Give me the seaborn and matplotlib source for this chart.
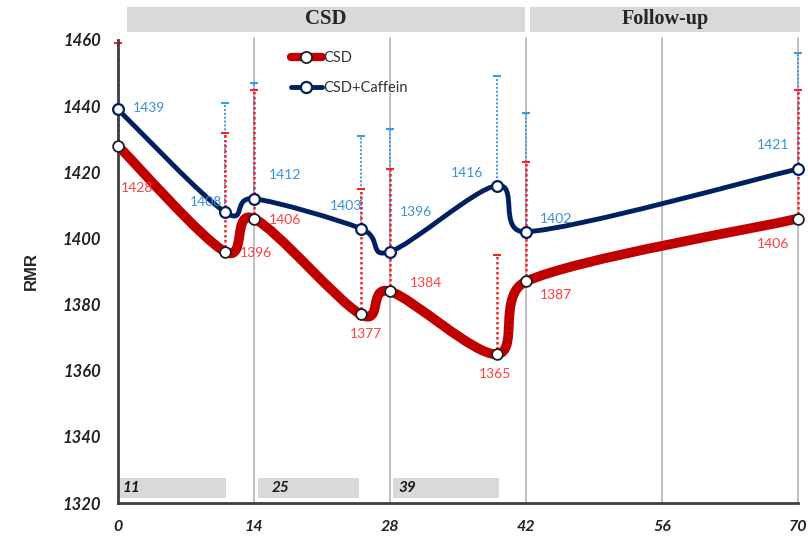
import numpy as np
import matplotlib
matplotlib.use("Agg")
import matplotlib.pyplot as plt
from matplotlib.path import Path
from matplotlib.patches import PathPatch, Rectangle
from matplotlib.lines import Line2D
import seaborn as sns
import pandas as pd

days = [0, 11, 14, 25, 28, 39, 42, 70]
csd = [1428, 1396, 1406, 1377, 1384, 1365, 1387, 1406]
caff = [1439, 1408, 1412, 1403, 1396, 1416, 1402, 1421]
csd_err = [31, 36, 39, 38, 37, 30, 36, 39]
caff_err = [20, 33, 35, 28, 37, 33, 36, 35]
xticks = [0, 14, 28, 42, 56, 70]
yticks = [1320, 1340, 1360, 1380, 1400, 1420, 1440, 1460]
phase_labels = ["CSD", "Follow-up"]
band_labels = ["11", "25", "39"]
band_spans = [(0, 11), (14.3, 24.7), (28.2, 39.1)]

# label offsets in pixels (dx right, dy down)
csd_off = [(19, 42), (31, 1), (31, 1), (5, 20), (36, -8), (-2, 20), (30, 14), (-25, 25)]
caff_off = [(31, -1), (-19, -10), (31, -24), (-15, -23), (26, -40), (-30, -13), (30, -13), (-25, -24)]

RED = "#C00000"
NAVY = "#002060"
RED_T = "#FF4040"
BLUE_T = "#3D8FD6"
RED_E = "#FF2020"
BLUE_E = "#3A9AE8"

sns.set_style("white")
plt.rcParams['font.family'] = ['Lato', 'DejaVu Sans']

fig = plt.figure(figsize=(8.08, 5.40), dpi=100)
ax = fig.add_axes([118/808, 1-503/540, 680/808, 463/540])
ax.set_xlim(0, 70)
ax.set_ylim(1320, 1460)


def smooth_path(xs, ys):
    pts = np.column_stack([xs, ys]).astype(float)
    n = len(pts)
    verts = [pts[0]]
    codes = [Path.MOVETO]
    for i in range(n - 1):
        p0 = pts[i - 1] if i > 0 else pts[i]
        p1 = pts[i]
        p2 = pts[i + 1]
        p3 = pts[i + 2] if i + 2 < n else pts[i + 1]
        seg = p2[0] - p1[0]
        d1 = (p2 - p0) / 6.0
        d2 = (p3 - p1) / 6.0
        if abs(d1[0]) > seg:
            d1 = d1 * seg / abs(d1[0])
        if abs(d2[0]) > seg:
            d2 = d2 * seg / abs(d2[0])
        verts += [p1 + d1, p2 - d2, p2]
        codes += [Path.CURVE4] * 3
    return Path(verts, codes)

# grid lines
for xv in xticks[1:]:
    ax.axvline(xv, color="#C0C0C0", lw=1.4, zorder=0.5, ymax=1.005, clip_on=False)

# bottom bands
band_text_x = [0.5, 1.5, 0.7]
for (a, b), lab, tx in zip(band_spans, band_labels, band_text_x):
    ax.add_patch(Rectangle((a + 0.1, 1321.5), b - a, 6.1, color="#D9D9D9", zorder=0.6, lw=0))
    ax.text(a + tx, 1324.5, lab, fontsize=11, fontweight="bold", fontstyle="italic",
            va="center", ha="left", color="#1a1a1a", zorder=0.7)

# error bars
for vals, err, col, lw in [(caff, caff_err, BLUE_E, 1.4), (csd, csd_err, RED_E, 1.8)]:
    eb = ax.errorbar(days, vals, yerr=[[0] * len(err), err], fmt="none", ecolor=col,
                     elinewidth=lw, capsize=3, capthick=1.5, zorder=1)
    for lc in eb[2]:
        lc.set_linestyle((0, (1, 1)))
        lc.set_clip_on(False)
    for cl in eb[1]:
        cl.set_clip_on(False)

# smooth lines
ax.add_patch(PathPatch(smooth_path(days, csd), fill=False, edgecolor=RED, lw=7,
                       capstyle="round", joinstyle="round", zorder=2))
ax.add_patch(PathPatch(smooth_path(days, caff), fill=False, edgecolor=NAVY, lw=3.5,
                       capstyle="round", joinstyle="round", zorder=3))

df = pd.DataFrame({"day": days * 2, "rmr": csd + caff,
                   "grp": ["CSD"] * len(days) + ["CSD+Caffein"] * len(days)})
sns.scatterplot(data=df[df.grp == "CSD"], x="day", y="rmr", ax=ax, color="white",
                edgecolor="#202020", linewidth=1.3, s=60, zorder=4, legend=False, clip_on=False)
sns.scatterplot(data=df[df.grp == "CSD+Caffein"], x="day", y="rmr", ax=ax, color="white",
                edgecolor=NAVY, linewidth=1.6, s=60, zorder=5, legend=False, clip_on=False)

for x, y, (dx, dy) in zip(days, csd, csd_off):
    ax.annotate(str(y), (x, y), xytext=(dx * 0.72, -dy * 0.72), textcoords="offset points",
                ha="center", va="center", color=RED_T, fontsize=10, zorder=6)
for x, y, (dx, dy) in zip(days, caff, caff_off):
    ax.annotate(str(y), (x, y), xytext=(dx * 0.72, -dy * 0.72), textcoords="offset points",
                ha="center", va="center", color=BLUE_T, fontsize=10, zorder=6)

# axes styling
ax.set_xticks(xticks)
ax.set_yticks(yticks)
ax.set_xticklabels([str(t) for t in xticks], fontweight="bold", fontstyle="italic", fontsize=11.5)
ax.set_yticklabels([str(t) for t in yticks], fontweight="bold", fontstyle="italic", fontsize=12)
ax.tick_params(axis="y", direction="out", length=5, width=1.5, pad=7, colors="#222222")
ax.tick_params(axis="x", direction="inout", length=7, width=1.5, pad=9, colors="#222222")
for s in ["top", "right"]:
    ax.spines[s].set_visible(False)
for s in ["left", "bottom"]:
    ax.spines[s].set_color("#404040")
    ax.spines[s].set_linewidth(2)
ax.set_xlabel("")
ax.set_ylabel("RMR", fontsize=12, fontweight="bold", family=["Liberation Sans", "DejaVu Sans"],
              labelpad=17)

# top phase bands
fig.patches.append(Rectangle((127/808, 1-32/540), 398/808, 25/540, transform=fig.transFigure,
                             color="#D9D9D9", lw=0))
fig.patches.append(Rectangle((530/808, 1-32/540), 270/808, 25/540, transform=fig.transFigure,
                             color="#D9D9D9", lw=0))
fig.text(326/808, 1-19/540, phase_labels[0], ha="center", va="center", fontsize=15,
         fontweight="bold", family=["Liberation Serif", "DejaVu Serif"])
fig.text(665/808, 1-19/540, phase_labels[1], ha="center", va="center", fontsize=14.5,
         fontweight="bold", family=["Liberation Serif", "DejaVu Serif"])

handles = [
    Line2D([], [], color=RED, lw=6, marker="o", markersize=8, markerfacecolor="white",
           markeredgecolor="#202020", markeredgewidth=1.3),
    Line2D([], [], color=NAVY, lw=3.5, marker="o", markersize=8, markerfacecolor="white",
           markeredgecolor=NAVY, markeredgewidth=1.6),
]
ax.legend(handles, ["CSD", "CSD+Caffein"], loc="upper left", bbox_to_anchor=(0.235, 1.005),
          frameon=False, fontsize=10.5, handlelength=2.1, handletextpad=0.1,
          labelspacing=1.1, labelcolor="#333333")

fig.savefig("out.png", dpi=100)
